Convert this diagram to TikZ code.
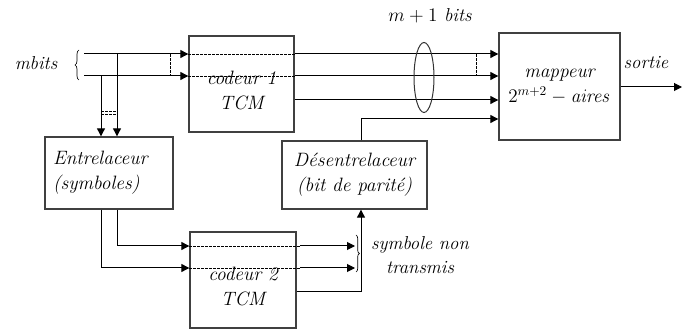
\documentclass[tikz,border=0pt]{standalone}
\usetikzlibrary{arrows.meta,decorations.pathreplacing}

\tikzset{
  blockbox/.style={draw=black!75, line width=1pt, inner sep=0pt, align=center, font=\fontsize{14.5}{19}\selectfont\itshape},
  txt/.style={inner sep=0pt, align=center, font=\fontsize{14}{18}\selectfont\itshape},
  sig/.style={line width=0.75pt},
  sigarr/.style={line width=0.75pt, -{Triangle[length=6pt,width=6pt]}},
  sigdash/.style={line width=0.6pt, dashed, dash pattern=on 2pt off 1pt},
}

\begin{document}
\begin{tikzpicture}[x=0.75pt,y=0.75pt,yscale=-1,xscale=1]
\useasboundingbox (0,0) rectangle (690,331);

% Blocks
\node [blockbox, minimum width=78.75pt, minimum height=72pt,
       label={[blockbox, draw=none, yshift=-5pt]center:codeur 1\\TCM}] (cod1) at (241.5,84) {};
\node [blockbox, minimum width=96pt, minimum height=54pt, text width=84pt, align=left] (entrel) at (109,173) {Entrelaceur\\(symboles)};
\node [blockbox, minimum width=79.5pt, minimum height=72pt,
       label={[blockbox, draw=none, yshift=-5pt]center:codeur 2\\TCM}] (cod2) at (243,280) {};
\node [blockbox, minimum width=108.75pt, minimum height=51pt] (desent) at (354.5,175) {D\'esentrelaceur\\(bit de parit\'e)};
\node [blockbox, minimum width=90.75pt, minimum height=80.25pt] (mapp) at (559.5,86.5) {mappeur\\$2^{m+2}-\mathit{aires}$};

% Inputs
\coordinate (inA) at (84,54);
\coordinate (inB) at (84,76);
\coordinate (tapA) at (117,54);
\coordinate (tapB) at (101,76);
\draw [sigarr] (inA) -- (inA -| cod1.west);
\draw [sigarr] (inB) -- (inB -| cod1.west);
\draw [sigdash] (170,54) -- (170,76);
\draw [decorate, decoration={brace, amplitude=3pt}, line width=0.5pt] (79,80) -- (79,50);
\node [txt] (mbits) at (36,63) {mbits};

% Taps to the interleaver
\draw [sigarr] (tapA) -- (tapA |- entrel.north);
\draw [sigarr] (tapB) -- (tapB |- entrel.north);
\draw [sigdash] (101,111.5) -- (117,111.5);
\draw [sigdash] (101,114.5) -- (117,114.5);

% Through coder 1 to the mapper
\draw [sigdash] (inA -| cod1.west) -- (inA -| cod1.east);
\draw [sigdash] (inB -| cod1.west) -- (inB -| cod1.east);
\draw [sigarr] (inA -| cod1.east) -- (inA -| mapp.west);
\draw [sigarr] (inB -| cod1.east) -- (inB -| mapp.west);
\draw [sigarr] (cod1.east |- 0,100) -- (mapp.west |- 0,100);
\draw [sigdash] (476,54) -- (476,76);
\draw [line width=0.75pt, black!80] (424,77.5) ellipse [x radius=10, y radius=35];
\node [txt] (mbits1) at (430,16) {$m+1$ bits};

% Interleaver to coder 2
\draw [sigarr] (tapA |- entrel.south) |- (cod2.west |- 0,246);
\draw [sigarr] (tapB |- entrel.south) |- (cod2.west |- 0,268);
\draw [sigdash] (cod2.west |- 0,246) -- (300,246);
\draw [sigdash] (cod2.west |- 0,268) -- (300,268);
\draw [sigarr] (300,246) -- (355,246);
\draw [sigarr] (300,268) -- (355,268);
\draw [decorate, decoration={brace, amplitude=2.5pt}, line width=0.5pt] (356,235) -- (356,272);
\node [txt] (nontx) at (420,255.5) {symbole non\\transmis};

% Parity path
\coordinate (par) at (361,292);
\draw [sigarr] (cod2.east |- par) -- (par) -- (par |- desent.south);
\draw [sigarr] (par |- desent.north) |- (mapp.west |- 0,119);

% Output
\coordinate (outp) at (682,87);
\draw [sigarr] (mapp.east |- outp) -- (outp);
\node [txt] (sortie) at (646,63) {sortie};

\end{tikzpicture}
\end{document}
